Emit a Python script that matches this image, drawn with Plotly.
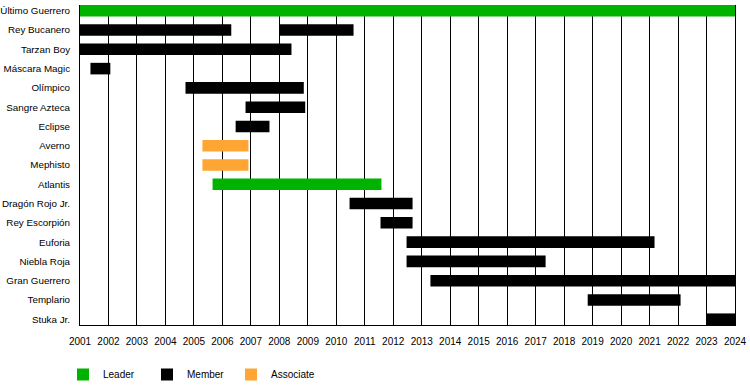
import plotly.graph_objects as go
from datetime import datetime

members = ["Último Guerrero", "Rey Bucanero", "Tarzan Boy", "Máscara Magic", "Olímpico",
           "Sangre Azteca", "Eclipse", "Averno", "Mephisto", "Atlantis", "Dragón Rojo Jr.",
           "Rey Escorpión", "Euforia", "Niebla Roja", "Gran Guerrero", "Templario", "Stuka Jr."]

leader_names = ["Último Guerrero", "Atlantis"]
leader_start = ["2001-01-01", "2005-08-28"]
leader_end = ["2024-01-01", "2011-08-03"]

member_names = ["Rey Bucanero", "Rey Bucanero", "Tarzan Boy", "Máscara Magic", "Olímpico",
                "Sangre Azteca", "Eclipse", "Dragón Rojo Jr.", "Rey Escorpión", "Euforia",
                "Niebla Roja", "Gran Guerrero", "Templario", "Stuka Jr."]
member_start = ["2001-01-01", "2008-01-01", "2001-01-01", "2001-05-15", "2004-09-15",
                "2006-10-25", "2006-06-20", "2010-06-20", "2011-07-22", "2012-06-20",
                "2012-06-20", "2013-04-22", "2018-10-30", "2023-01-01"]
member_end = ["2006-04-25", "2010-08-10", "2008-06-05", "2002-01-25", "2008-11-10",
              "2008-11-28", "2007-08-28", "2012-09-05", "2012-09-05", "2021-03-05",
              "2017-05-08", "2024-01-01", "2022-02-02", "2024-01-01"]

assoc_names = ["Averno", "Mephisto"]
assoc_start = ["2005-04-20", "2005-04-20"]
assoc_end = ["2006-12-01", "2006-12-01"]

year_ticks = list(range(2001, 2025))


def dur_ms(starts, ends):
    f = "%Y-%m-%d"
    return [(datetime.strptime(e, f) - datetime.strptime(s, f)).total_seconds() * 1000
            for s, e in zip(starts, ends)]


fig = go.Figure()
for name, names, starts, ends, color in [
    ("Leader", leader_names, leader_start, leader_end, "#00b300"),
    ("Member", member_names, member_start, member_end, "#000000"),
    ("Associate", assoc_names, assoc_start, assoc_end, "#ffa533"),
]:
    fig.add_trace(go.Bar(
        name=name, y=names, base=starts, x=dur_ms(starts, ends),
        orientation="h", marker=dict(color=color, line=dict(width=0)),
        width=0.6, hoverinfo="skip",
    ))

fig.update_layout(
    width=750, height=385,
    margin=dict(l=80, r=15, t=5, b=60, autoexpand=False),
    paper_bgcolor="white", plot_bgcolor="white",
    font=dict(family="Liberation Sans, Arial, sans-serif", size=10, color="black"),
    barmode="overlay",
    showlegend=True,
    legend=dict(orientation="h", xref="container", yref="container",
                x=63 / 750, y=(385 - 360) / 385, xanchor="left", yanchor="top",
                entrywidth=39, entrywidthmode="pixels",
                font=dict(size=10), traceorder="normal"),
    xaxis=dict(type="date", range=["2001-01-01", "2024-01-01"],
               tickvals=[f"{y}-01-01" for y in year_ticks],
               ticktext=[str(y) for y in year_ticks],
               showgrid=True, gridcolor="black", gridwidth=1,
               showline=True, linecolor="black", linewidth=1,
               ticks="", ticklabelstandoff=7, zeroline=False, automargin=False,
               tickfont=dict(size=10)),
    yaxis=dict(type="category", categoryorder="array", categoryarray=members,
               range=[16.3, -0.3], showgrid=False, automargin=False,
               showline=True, linecolor="black", linewidth=1, mirror=True,
               ticks="", ticklabelstandoff=7, tickfont=dict(size=9.8)),
)

fig.write_html("out.html", config={"displayModeBar": False},
               post_script="document.body.style.margin='0';")
